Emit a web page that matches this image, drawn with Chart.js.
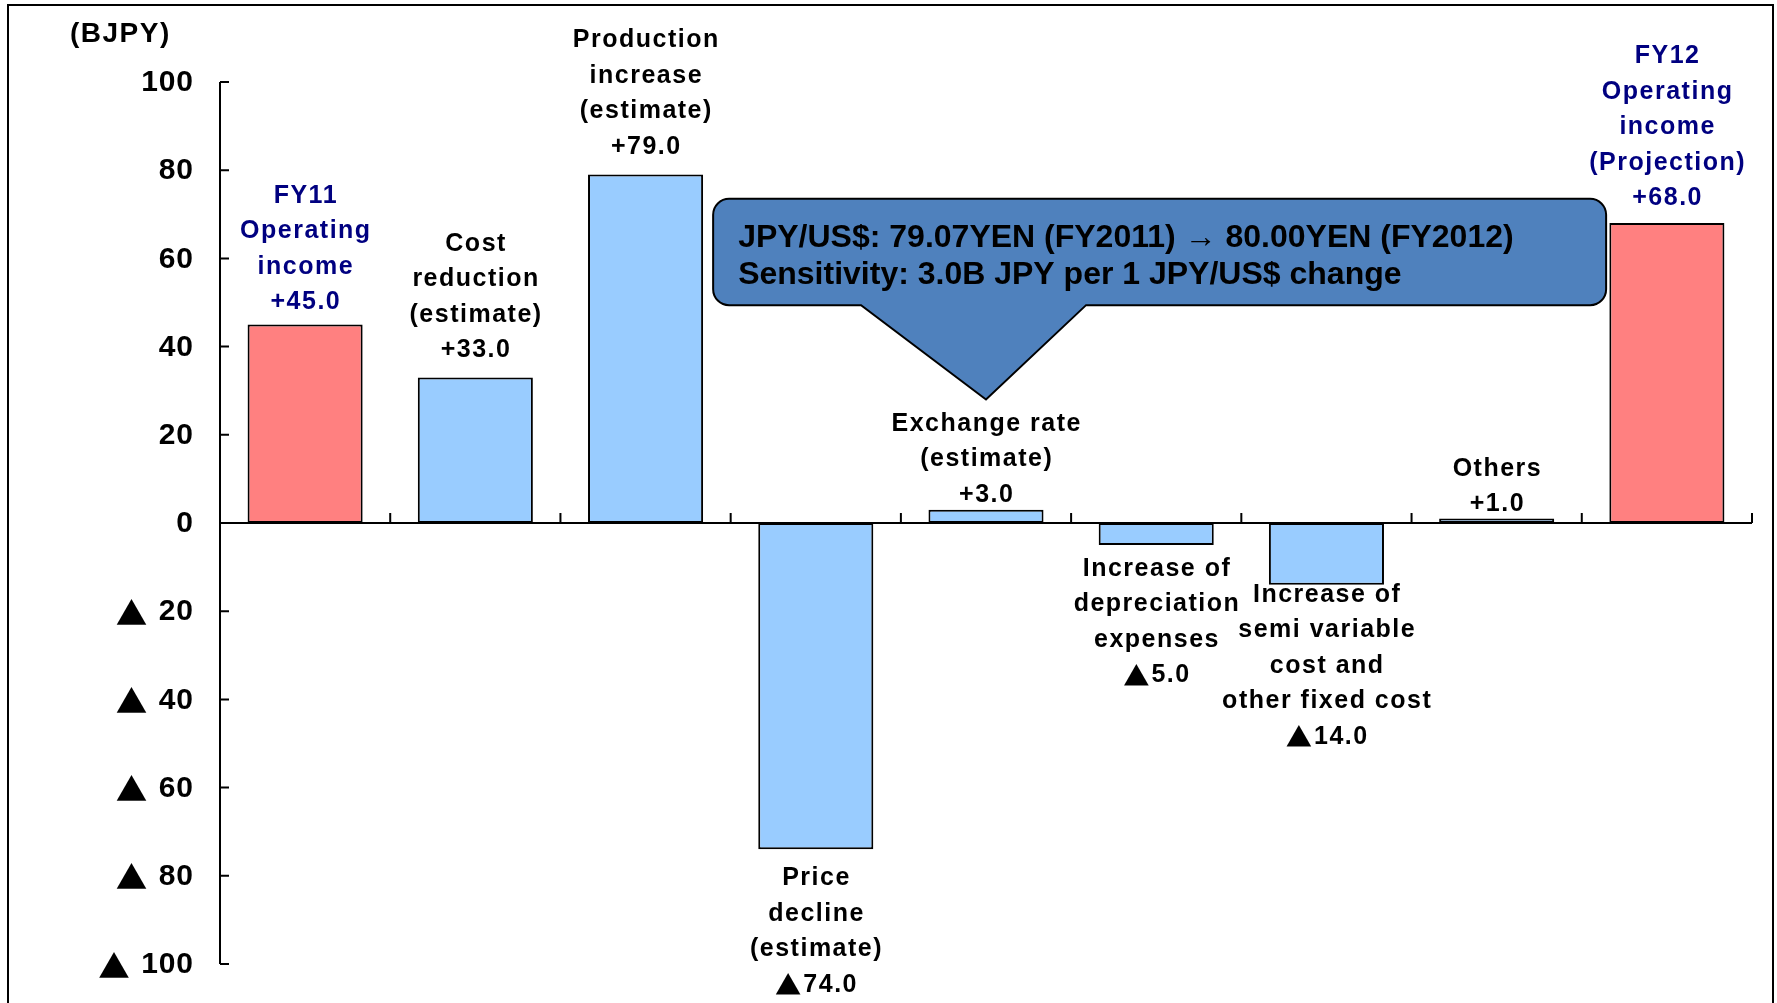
<!DOCTYPE html>
<html>
<head>
<meta charset="utf-8">
<script src="https://cdn.jsdelivr.net/npm/chart.js@4.4.1/dist/chart.umd.min.js"></script>
<style>
  html, body { margin: 0; padding: 0; background: #fff; overflow: hidden; }
  #wrap { position: relative; width: 1777px; height: 1003px; }
  #frame { position: absolute; left: 7px; top: 4px; width: 1767px; height: 1100px; border: 2px solid #000; box-sizing: border-box; pointer-events: none; }
  canvas { position: absolute; left: 0; top: 0; }
</style>
</head>
<body>
<div id="wrap">
  <canvas id="bridgeChart" width="1777" height="1003"></canvas>
  <div id="frame"></div>
</div>
<script>
// Operating income bridge, FY11 -> FY12 (BJPY)
const categories = [
  ['FY11', 'Operating', 'income'],
  ['Cost', 'reduction', '(estimate)'],
  ['Production', 'increase', '(estimate)'],
  ['Price', 'decline', '(estimate)'],
  ['Exchange rate', '(estimate)'],
  ['Increase of', 'depreciation', 'expenses'],
  ['Increase of', 'semi variable', 'cost and', 'other fixed cost'],
  ['Others'],
  ['FY12', 'Operating', 'income', '(Projection)']
];
const values = [45.0, 33.0, 79.0, -74.0, 3.0, -5.0, -14.0, 1.0, 68.0];
const yTicks = [100, 80, 60, 40, 20, 0, -20, -40, -60, -80, -100];
const calloutLines = [
  'JPY/US$: 79.07YEN (FY2011) \u2192 80.00YEN (FY2012)',
  'Sensitivity: 3.0B JPY per 1 JPY/US$ change'
];

const TRI = '\u25B2';
const lastIdx = values.length - 1;
const isTotal = (i) => i === 0 || i === lastIdx;
const barColors = values.map((v, i) => isTotal(i) ? '#FF8080' : '#99CCFF');
const textColors = values.map((v, i) => isTotal(i) ? '#000080' : '#000000');

const fmtValue = (v) => v >= 0 ? '+' + v.toFixed(1) : TRI + (-v).toFixed(1);
const fmtTick = (v) => v < 0 ? TRI + ' ' + (-v) : String(v);

const baseFamily = '"Liberation Sans", Arial, sans-serif';
const triFamily = '"Noto Sans CJK JP", "DejaVu Sans", sans-serif';

// draws a string where the minus marker uses a wider CJK glyph
function drawMixed(ctx, text, x, y, align, size, spacing) {
  const parts = text.split(/(\u25B2)/).filter(p => p.length);
  const fontFor = (p) => p === TRI ? (size * 1.05) + 'px ' + triFamily : 'bold ' + size + 'px ' + baseFamily;
  const widths = parts.map(p => {
    ctx.font = fontFor(p);
    ctx.letterSpacing = p === TRI ? '0px' : spacing + 'px';
    return ctx.measureText(p).width - (p === TRI ? 0 : spacing);
  });
  const gapAfterTri = size * 0.08;
  let total = widths.reduce((a, b) => a + b, 0);
  parts.forEach(p => { if (p === TRI) total += gapAfterTri; });
  let cx = align === 'right' ? x - total : align === 'center' ? x - total / 2 : x;
  ctx.textAlign = 'left';
  ctx.textBaseline = 'middle';
  parts.forEach((p, k) => {
    ctx.font = fontFor(p);
    ctx.letterSpacing = p === TRI ? '0px' : spacing + 'px';
    ctx.fillText(p, cx, p === TRI ? y + size * 0.02 : y);
    cx += widths[k] + (p === TRI ? gapAfterTri : 0);
  });
}

// axes, bar captions, unit label and the exchange-rate callout
const bridgeDecor = {
  id: 'bridgeDecor',
  afterDatasetsDraw(chart, args, opts) {
    const ctx = chart.ctx;
    const xs = chart.scales.x, ys = chart.scales.y;
    const area = chart.chartArea;
    const y0 = ys.getPixelForValue(0);

    ctx.save();
    ctx.strokeStyle = '#000';
    ctx.lineWidth = 2;
    ctx.beginPath();
    ctx.moveTo(area.left, y0);
    ctx.lineTo(area.right, y0);
    ctx.moveTo(area.left, ys.getPixelForValue(yTicks[0]));
    ctx.lineTo(area.left, ys.getPixelForValue(yTicks[yTicks.length - 1]));
    yTicks.forEach(t => {
      const py = ys.getPixelForValue(t);
      ctx.moveTo(area.left, py);
      ctx.lineTo(area.left + 9, py);
    });
    for (let i = 0; i < categories.length; i++) {
      const px = xs.getPixelForValue(i + 0.5);
      ctx.moveTo(px, y0);
      ctx.lineTo(px, y0 - 10);
    }
    ctx.stroke();

    // y tick labels
    ctx.fillStyle = '#000';
    yTicks.forEach(t => {
      drawMixed(ctx, fmtTick(t), area.left - 27, ys.getPixelForValue(t) + 1, 'right', 30, 0.8);
    });

    // unit
    ctx.font = 'bold 28px ' + baseFamily;
    ctx.letterSpacing = '1.5px';
    ctx.textAlign = 'left';
    ctx.textBaseline = 'middle';
    ctx.fillText('(BJPY)', 70, 34);

    // bar captions
    const lh = opts.lineHeight;
    const meta = chart.getDatasetMeta(0);
    meta.data.forEach((bar, i) => {
      const lines = categories[i].concat([fmtValue(values[i])]);
      const gap = opts.gaps[i];
      ctx.fillStyle = textColors[i];
      lines.forEach((txt, k) => {
        let cy;
        if (values[i] >= 0) cy = bar.y - gap - (lines.length - 1 - k) * lh;
        else cy = bar.y + gap + k * lh;
        drawMixed(ctx, txt, bar.x, cy, 'center', 25, 1.5);
      });
    });

    // callout box with pointer
    const c = opts.callout;
    const bx0 = xs.getPixelForValue(c.left), bx1 = xs.getPixelForValue(c.right);
    const by0 = ys.getPixelForValue(c.top), by1 = ys.getPixelForValue(c.bottom);
    const pl = xs.getPixelForValue(c.baseLeft), pr = xs.getPixelForValue(c.baseRight);
    const tx = xs.getPixelForValue(c.tipX), ty = ys.getPixelForValue(c.tipY);
    const r = 16;
    ctx.beginPath();
    ctx.moveTo(bx0 + r, by0);
    ctx.lineTo(bx1 - r, by0);
    ctx.arcTo(bx1, by0, bx1, by0 + r, r);
    ctx.lineTo(bx1, by1 - r);
    ctx.arcTo(bx1, by1, bx1 - r, by1, r);
    ctx.lineTo(pr, by1);
    ctx.lineTo(tx, ty);
    ctx.lineTo(pl, by1);
    ctx.lineTo(bx0 + r, by1);
    ctx.arcTo(bx0, by1, bx0, by1 - r, r);
    ctx.lineTo(bx0, by0 + r);
    ctx.arcTo(bx0, by0, bx0 + r, by0, r);
    ctx.closePath();
    ctx.fillStyle = '#4F81BD';
    ctx.fill();
    ctx.lineWidth = 2;
    ctx.strokeStyle = '#000';
    ctx.stroke();

    ctx.fillStyle = '#000';
    ctx.letterSpacing = '0px';
    ctx.font = 'bold 32px ' + baseFamily;
    ctx.textAlign = 'left';
    ctx.textBaseline = 'middle';
    calloutLines.forEach((txt, k) => {
      ctx.fillText(txt, bx0 + 25, by0 + 39 + k * 37);
    });
    ctx.restore();
  }
};

const ctx = document.getElementById('bridgeChart').getContext('2d');
new Chart(ctx, {
  type: 'bar',
  data: {
    labels: categories.map(c => c.join(' ')),
    datasets: [{
      data: values,
      backgroundColor: barColors,
      borderColor: '#000',
      borderWidth: 2,
      borderSkipped: false,
      categoryPercentage: 1,
      barPercentage: 0.676
    }]
  },
  options: {
    responsive: false,
    animation: false,
    devicePixelRatio: 1,
    layout: { padding: { left: 220, right: 25, top: 82, bottom: 39 } },
    plugins: {
      legend: { display: false },
      tooltip: { enabled: false },
      bridgeDecor: {
        lineHeight: 35.5,
        gaps: [22, 27, 28, 29, 15, 24, 10, 14, 25],
        callout: {
          left: 2.397, right: 7.643, top: 73.5, bottom: 49.4,
          baseLeft: 3.266, baseRight: 4.588, tipX: 4, tipY: 28
        }
      }
    },
    scales: {
      x: { display: false, offset: true },
      y: { display: false, min: -100, max: 100 }
    }
  },
  plugins: [bridgeDecor]
});
</script>
</body>
</html>
